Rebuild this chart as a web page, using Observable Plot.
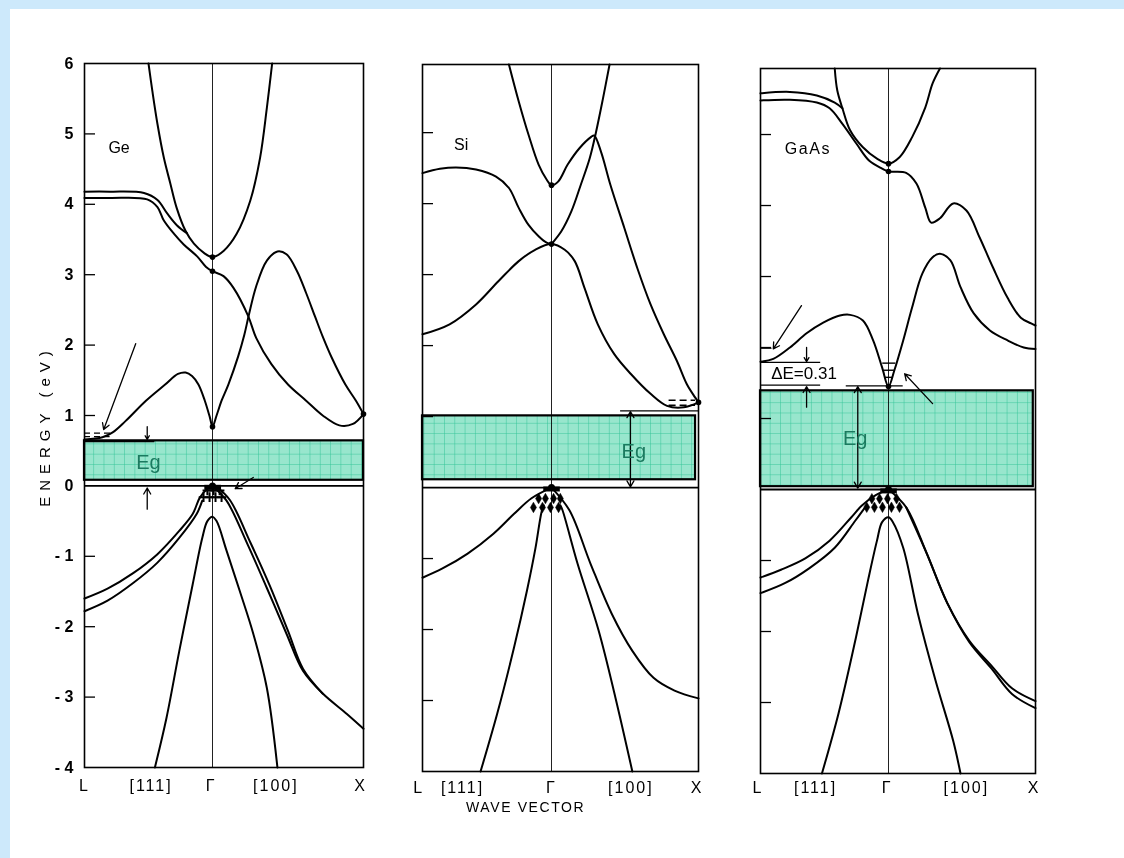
<!DOCTYPE html>
<html><head><meta charset="utf-8">
<script src="https://cdn.jsdelivr.net/npm/d3@7"></script>
<script src="https://cdn.jsdelivr.net/npm/@observablehq/plot@0.6"></script>
<style>
html,body{margin:0;padding:0;}
body{width:1124px;height:858px;background:#cde9fb;overflow:hidden;position:relative;}
#page{position:absolute;left:10px;top:9px;right:0;bottom:0;background:#fff;}
#wrap{position:absolute;left:0;top:0;width:1124px;height:858px;}
</style></head><body>
<div id="page"></div>
<div id="wrap"></div>
<script>
// ---------------- DATA (k: L=-1, Γ=0, X=+1 ; E in eV) ----------------
// Ge conduction bands
const geParabola = [[-0.50,6.0],[-0.47,5.61],[-0.43,5.14],[-0.38,4.66],[-0.33,4.3],[-0.28,3.95],[-0.21,3.62],[-0.145,3.44],[-0.067,3.31],[0,3.25],[0.075,3.34],[0.16,3.58],[0.25,4.05],[0.315,4.66],[0.36,5.37],[0.395,6.0]];
const geUpperA = [[-1,4.18],[-0.8,4.18],[-0.535,4.16],[-0.43,4.06],[-0.354,3.87],[-0.277,3.7],[-0.2,3.59]];
const geUpperB = [[-1,4.09],[-0.8,4.09],[-0.51,4.07],[-0.43,3.96],[-0.38,3.77],[-0.3,3.58],[-0.225,3.43],[-0.12,3.26],[-0.05,3.11],[0,3.05],[0.073,2.98],[0.14,2.81],[0.235,2.42],[0.29,2.1],[0.39,1.73],[0.5,1.44],[0.62,1.21],[0.73,1.0],[0.84,0.86],[0.93,0.88],[1,1.02]];
const geLowest = [[-1,0.66],[-0.86,0.69],[-0.78,0.76],[-0.68,0.92],[-0.52,1.21],[-0.37,1.44],[-0.27,1.59],[-0.21,1.61],[-0.16,1.56],[-0.11,1.44],[-0.06,1.21],[-0.02,0.97],[0,0.84],[0.027,1.0],[0.06,1.21],[0.105,1.44],[0.17,1.84],[0.21,2.14],[0.24,2.42],[0.29,2.84],[0.36,3.2],[0.43,3.33],[0.49,3.29],[0.56,3.05],[0.62,2.74],[0.68,2.4],[0.73,2.12],[0.79,1.82],[0.88,1.44],[0.95,1.21],[1,1.02]];
// Ge valence bands
const geValLa = [[-1,-1.6],[-0.82,-1.46],[-0.62,-1.24],[-0.43,-0.97],[-0.26,-0.64],[-0.155,-0.4],[-0.1,-0.17],[-0.04,-0.04],[0,0]];
const geValLb = [[-1,-1.78],[-0.82,-1.63],[-0.62,-1.38],[-0.43,-1.09],[-0.26,-0.74],[-0.124,-0.4],[-0.08,-0.21]];
const geValRa = [[0,0],[0.093,-0.21],[0.23,-0.82],[0.36,-1.45],[0.49,-2.1],[0.6,-2.63],[0.73,-2.95],[0.89,-3.24],[1,-3.45]];
const geValRb = [[0.03,-0.02],[0.115,-0.2],[0.25,-0.8],[0.38,-1.42],[0.5,-2.06],[0.6,-2.6],[0.73,-2.95]];
const geValIn = [[-0.45,-4],[-0.36,-3.3],[-0.26,-2.35],[-0.155,-1.4],[-0.08,-0.74],[-0.04,-0.5],[0,-0.44],[0.027,-0.5],[0.093,-0.92],[0.18,-1.49],[0.27,-2.1],[0.36,-2.87],[0.43,-4]];
// Si conduction bands
const siParabola = [[-0.33,5.96],[-0.254,5.44],[-0.178,4.97],[-0.1,4.55],[-0.038,4.34],[0,4.26],[0.045,4.31],[0.11,4.55],[0.19,4.78],[0.27,4.94],[0.29,4.96],[0.337,4.73],[0.4,4.27],[0.495,3.66],[0.584,3.09],[0.674,2.58],[0.764,2.16],[0.854,1.78],[0.92,1.46],[0.977,1.27],[1,1.2]];
const siRise = [[0,3.43],[0.067,3.61],[0.135,3.89],[0.2,4.27],[0.26,4.64],[0.303,5.01],[0.35,5.48],[0.395,5.96]];
const siUpperL = [[-1,4.43],[-0.865,4.49],[-0.74,4.51],[-0.585,4.48],[-0.43,4.38],[-0.33,4.22],[-0.254,3.94],[-0.178,3.7],[-0.1,3.54],[-0.038,3.45],[0,3.43]];
const siLowest = [[-1,2.16],[-0.79,2.3],[-0.585,2.58],[-0.41,2.91],[-0.254,3.19],[-0.127,3.35],[0,3.43],[0.09,3.35],[0.158,3.19],[0.225,2.81],[0.315,2.3],[0.427,1.88],[0.54,1.6],[0.674,1.32],[0.786,1.15],[0.9,1.13],[1,1.2]];
// Si valence bands
const siValLo = [[-1,-1.27],[-0.845,-1.14],[-0.65,-0.93],[-0.45,-0.65],[-0.29,-0.37],[-0.155,-0.15],[0,0]];
const siValLi = [[-0.55,-4],[-0.42,-3.18],[-0.29,-2.25],[-0.19,-1.45],[-0.124,-0.85],[-0.078,-0.35],[-0.06,-0.25]];
const siValRi = [[0.06,-0.25],[0.075,-0.32],[0.177,-1.07],[0.32,-2.01],[0.435,-2.96],[0.55,-4]];
const siValRo = [[0,0],[0.122,-0.32],[0.265,-1.07],[0.408,-1.77],[0.55,-2.3],[0.694,-2.68],[0.837,-2.86],[1,-2.97]];
// GaAs conduction bands
const gaParabola = [[-0.42,5.93],[-0.4,5.62],[-0.36,5.37],[-0.3,5.06],[-0.2,4.82],[-0.09,4.66],[0,4.59],[0.075,4.68],[0.16,4.96],[0.25,5.38],[0.3,5.72],[0.35,5.93]];
const gaUpperA = [[-1,5.58],[-0.77,5.6],[-0.56,5.55],[-0.42,5.45],[-0.36,5.37]];
const gaUpperB = [[-1,5.48],[-0.77,5.49],[-0.56,5.45],[-0.46,5.37],[-0.36,5.15],[-0.25,4.87],[-0.15,4.63],[-0.05,4.52],[0,4.48],[0.12,4.46],[0.19,4.31],[0.25,3.97],[0.29,3.76],[0.35,3.82],[0.44,4.03],[0.53,3.93],[0.62,3.55],[0.71,3.13],[0.81,2.7],[0.9,2.42],[0.97,2.34],[1,2.31]];
const gaLowest = [[-1,1.8],[-0.9,1.84],[-0.77,2.0],[-0.64,2.2],[-0.51,2.35],[-0.38,2.45],[-0.3,2.46],[-0.2,2.38],[-0.12,2.1],[-0.05,1.72],[0,1.45],[0.04,1.68],[0.1,2.1],[0.16,2.56],[0.23,3.04],[0.3,3.27],[0.35,3.32],[0.42,3.23],[0.49,2.85],[0.58,2.48],[0.69,2.24],[0.81,2.1],[0.92,2.0],[1,1.98]];
// GaAs valence bands
const gaValLa = [[-1,-1.24],[-0.84,-1.13],[-0.65,-0.97],[-0.46,-0.72],[-0.29,-0.39],[-0.21,-0.23],[-0.1,-0.08],[0,0]];
const gaValLb = [[-1,-1.46],[-0.81,-1.32],[-0.62,-1.11],[-0.42,-0.82],[-0.26,-0.44],[-0.19,-0.27]];
const gaValIn = [[-0.52,-4],[-0.39,-3.15],[-0.26,-2.13],[-0.16,-1.28],[-0.09,-0.72],[-0.05,-0.46],[0,-0.39],[0.03,-0.46],[0.1,-0.82],[0.2,-1.75],[0.32,-2.69],[0.44,-3.54],[0.49,-4]];
const gaValRa = [[0,0],[0.12,-0.25],[0.26,-0.9],[0.4,-1.6],[0.55,-2.13],[0.7,-2.48],[0.84,-2.8],[1,-2.98]];
const gaValRb = [[0.12,-0.25],[0.26,-0.9],[0.4,-1.6],[0.55,-2.15],[0.7,-2.52],[0.84,-2.88],[1,-3.08]];

// energy gap boxes [Emin, Emax, kRight]
const geGap = [0.08, 0.64, 1.0];
const siGap = [0.11, 1.01, 0.98];
const gaGap = [0.04, 1.39, 0.985];

// axis labels
const yTickValues = [6,5,4,3,2,1,0,-1,-2,-3,-4];
const yTickLabels = ["6","5","4","3","2","1","0","- 1","- 2","- 3","- 4"];
const innerTicks = [5,4,3,2,1,-1,-2,-3];
const kLabels = ["L","[111]","Γ","[100]","X"];
const geLabelK = [-1.0,-0.48,-0.01,0.42,0.98];
const siLabelK = [-1.03,-0.69,0,0.54,0.99];
const gaLabelK = [-1.02,-0.57,-0.01,0.53,0.99];

// carriers
const geHolesK = [[-0.04,-0.065],[0.007,-0.065],[0.047,-0.065],[-0.07,-0.16],[-0.023,-0.16],[0.02,-0.16],[0.06,-0.16]];
const siHolesK = [[-0.1,-0.155],[-0.047,-0.155],[0.014,-0.155],[0.06,-0.155],[-0.14,-0.28],[-0.07,-0.28],[-0.008,-0.28],[0.048,-0.28]];
const gaHolesK = [[-0.13,-0.13],[-0.07,-0.13],[-0.008,-0.13],[0.055,-0.13],[-0.17,-0.25],[-0.11,-0.25],[-0.047,-0.25],[0.02,-0.25],[0.075,-0.25]];
const geElectrons = [[0.75,-1,-0.77],[0.70,-1,-0.8]];
const siElectrons = [[1.23,0.8,0.98],[1.16,0.8,0.98]];
const gaElectrons = [[1.78,-0.045,0.05],[1.68,-0.035,0.04],[1.58,-0.025,0.03]];
const geGammaPts = [[0,3.25],[0,3.05],[0,0.84],[1,1.02]];
const siGammaPts = [[0,4.26],[0,3.43],[1,1.2]];
const gaGammaPts = [[0,4.59],[0,4.48],[0,1.45]];

// annotations: arrows [k1,E1,k2,E2], level lines [E,k1,k2]
const geArrows = [[-0.6,2.02,-0.85,0.8],[-0.51,0.84,-0.51,0.66],[-0.51,-0.33,-0.51,-0.03],[0.27,0.12,0.15,-0.04]];
const siArrows = [[0.537,0.55,0.537,1.07],[0.537,0.55,0.537,0.01]];
const gaArrows = [[-0.24,0.75,-0.24,1.45],[-0.24,0.75,-0.24,0.02],[-0.64,2.0,-0.64,1.8],[-0.64,1.16,-0.64,1.45],[0.3,1.21,0.11,1.63],[-0.68,2.59,-0.9,1.98]];
const geLevels = [[0.63,-1,-0.45]];
const siLevels = [[1.08,0.47,1.0]];
const gaLevels = [[1.79,-1,-0.53],[1.47,-1,-0.53],[1.46,-0.33,0.1],[1.99,-1,-0.91]];

// ---------------- DRAWING ----------------
const FONT = "'Liberation Sans', Arial, sans-serif";
const GAP_FILL = "#98e6cd";
const SPACING = {"L": 2, "[111]": 2, "Γ": 2, "[100]": 2, "X": 2, "WAVE VECTOR": 1.6, "ENERGY (eV)": 6, "GaAs": 1.5};

function panel(cfg) {
  const off = cfg.left;
  const a = cfg.G - cfg.L, b = cfg.X - cfg.G;           // pixel lengths of Γ-L and Γ-X
  const kx = k => (k < 0 ? k * a : k * b);               // wave-vector position along the axis
  const lines = cfg.curves.flatMap(([n, p]) => p.map(([k, E]) => ({name: n, k, E})));
  const Lp = cfg.L - off, Xp = cfg.X - off;
  const tickK = -1 + 11 / a;
  const gapBox = [{k1: -1, k2: cfg.gap[2], y1: cfg.gap[0], y2: cfg.gap[1]}];
  const marks = [
    Plot.ruleX([0], {x: d => kx(d), y1: -4, y2: cfg.yTop, stroke: "#222", strokeWidth: 1}),
    Plot.ruleY([0], {x1: kx(-1), x2: kx(1), stroke: "black", strokeWidth: 1.8}),
    Plot.ruleY(innerTicks, {x1: kx(-1), x2: kx(tickK), stroke: "black", strokeWidth: 1.3}),
    Plot.line(lines, {x: d => kx(d.k), y: "E", z: "name", stroke: "black", strokeWidth: 2, curve: "catmull-rom"}),
    Plot.ruleY(cfg.levels, {y: d => d[0], x1: d => kx(d[1]), x2: d => kx(d[2]), stroke: "black", strokeWidth: 1.2}),
    Plot.ruleY(cfg.electrons, {y: d => d[0], x1: d => kx(d[1]), x2: d => kx(d[2]), stroke: "black", strokeWidth: 1.4, strokeDasharray: cfg.dash}),
    Plot.arrow(cfg.arrows, {x1: d => kx(d[0]), y1: d => d[1], x2: d => kx(d[2]), y2: d => d[3], stroke: "black", strokeWidth: 1.3, headLength: 8}),
    Plot.dot(cfg.gammaPts, {x: d => kx(d[0]), y: d => d[1], r: 2.8, fill: "black"}),
    Plot.ruleY([-0.02], {x1: kx(-0.06), x2: kx(0.06), stroke: "black", strokeWidth: 5}),
    Plot.dot([[0, 0]], {x: d => kx(d[0]), y: d => d[1], r: 3.5, fill: "black"}),
    Plot.dot(cfg.holes, {x: d => kx(d[0]), y: d => d[1], symbol: cfg.holeSymbol, r: 3.2, fill: "black", stroke: "black", strokeWidth: cfg.holeSymbol === "plus" ? 2 : 0.5}),
    Plot.rect(gapBox, {x1: d => kx(d.k1), x2: d => kx(d.k2), y1: "y1", y2: "y2", fill: GAP_FILL}),
    Plot.rect(gapBox, {x1: d => kx(d.k1), x2: d => kx(d.k2), y1: "y1", y2: "y2", fill: "none", stroke: "black", strokeWidth: 2.2}),
    Plot.text(["Eg"], {x: () => kx(cfg.eg[0]), y: () => cfg.eg[1], text: d => d, fill: "#1b7a5f", fontSize: 20, fontFamily: FONT}),
    Plot.text([cfg.name], {x: () => kx(cfg.nameAt[0]), y: () => cfg.nameAt[1], text: d => d, fontSize: 16, fontFamily: FONT, fill: "black"}),
    Plot.text(kLabels, {x: (d, i) => kx(cfg.labelK[i]), frameAnchor: "bottom", dy: cfg.labelDy, text: d => d, fontSize: 16, fontFamily: FONT, fill: "black"}),
    Plot.frame({stroke: "black", strokeWidth: 1.6})
  ];
  if (cfg.extra) marks.push(...cfg.extra(kx));
  const svg = Plot.plot({
    width: cfg.width, height: 858,
    marginLeft: Lp, marginRight: cfg.width - Xp, marginTop: cfg.top, marginBottom: 858 - cfg.bottom,
    x: {type: "linear", domain: [-a, b], axis: null},
    y: {type: "linear", domain: [-4, cfg.yTop], axis: null},
    style: {background: "transparent", overflow: "visible", fontFamily: FONT},
    marks
  });
  // grid pattern of the gap box, blended so that lines under it stay visible
  const pid = "grid-" + cfg.id;
  svg.querySelectorAll("[fill]").forEach(el => {
    if ((el.getAttribute("fill") || "").toLowerCase() === GAP_FILL) {
      el.setAttribute("fill", `url(#${pid})`);
      el.style.mixBlendMode = "multiply";
    }
  });
  const ns = "http://www.w3.org/2000/svg";
  const defs = document.createElementNS(ns, "defs");
  defs.innerHTML = `<pattern id="${pid}" x="0.5" y="0.5" width="10.3" height="10.3" patternUnits="userSpaceOnUse"><rect width="10.3" height="10.3" fill="rgb(152,230,205)"/><path d="M10.3 0H0V10.3" fill="none" stroke="rgb(52,196,152)" stroke-width="1"/></pattern>`;
  svg.insertBefore(defs, svg.firstChild);
  svg.querySelectorAll("text").forEach(t => {
    const s = SPACING[t.textContent.replace(/\s+/g, " ").trim()];
    if (s) t.style.letterSpacing = s + "px";
  });
  svg.style.position = "absolute";
  svg.style.left = cfg.left + "px";
  svg.style.top = "0px";
  document.getElementById("wrap").appendChild(svg);
}

panel({
  id: "ge", name: "Ge", left: 0, width: 392, L: 84, G: 212, X: 363, top: 63, bottom: 767, yTop: 6,
  curves: [["p", geParabola], ["ua", geUpperA], ["ub", geUpperB], ["lo", geLowest], ["vla", geValLa], ["vlb", geValLb], ["vra", geValRa], ["vrb", geValRb], ["vin", geValIn]],
  gap: geGap, eg: [-0.5, 0.33], nameAt: [-0.73, 4.8], labelK: geLabelK, labelDy: 23,
  holes: geHolesK, holeSymbol: "plus", electrons: geElectrons, dash: "6,4", gammaPts: geGammaPts,
  arrows: geArrows, levels: geLevels,
  extra: kx => [
    Plot.text(yTickLabels, {x: () => kx(-1), y: (d, i) => yTickValues[i], dx: -11, textAnchor: "end", text: d => d, fontSize: 16, fontWeight: "bold", fontFamily: FONT, fill: "black"}),
    Plot.text(["ENERGY (eV)"], {x: () => kx(-1), y: () => 0.85, dx: -39, rotate: -90, text: d => d, fontSize: 15, fontFamily: FONT, fill: "black"})
  ]
});
panel({
  id: "si", name: "Si", left: 392, width: 336, L: 422, G: 551, X: 698, top: 64, bottom: 771, yTop: 5.96,
  curves: [["p", siParabola], ["r", siRise], ["ul", siUpperL], ["lo", siLowest], ["vlo", siValLo], ["vli", siValLi], ["vri", siValRi], ["vro", siValRo]],
  gap: siGap, eg: [0.56, 0.5], nameAt: [-0.7, 4.83], labelK: siLabelK, labelDy: 21,
  holes: siHolesK, holeSymbol: "diamond", electrons: siElectrons, dash: "7,4", gammaPts: siGammaPts,
  arrows: siArrows, levels: siLevels,
  extra: kx => [
    Plot.text(["WAVE VECTOR"], {x: () => kx(-0.2), frameAnchor: "bottom", dy: 40, text: d => d, fontSize: 14, fontFamily: FONT, fill: "black"})
  ]
});
panel({
  id: "ga", name: "GaAs", left: 728, width: 396, L: 760, G: 888, X: 1035, top: 68, bottom: 773, yTop: 5.93,
  curves: [["p", gaParabola], ["ua", gaUpperA], ["ub", gaUpperB], ["lo", gaLowest], ["vla", gaValLa], ["vlb", gaValLb], ["vin", gaValIn], ["vra", gaValRa], ["vrb", gaValRb]],
  gap: gaGap, eg: [-0.26, 0.72], nameAt: [-0.63, 4.8], labelK: gaLabelK, labelDy: 19,
  holes: gaHolesK, holeSymbol: "diamond", electrons: gaElectrons, dash: "none", gammaPts: gaGammaPts,
  arrows: gaArrows, levels: gaLevels,
  extra: kx => [
    Plot.text(["ΔE=0.31"], {x: () => kx(-0.66), y: () => 1.63, text: d => d, fontSize: 17, fontFamily: FONT, fill: "black"})
  ]
});
</script>
</body></html>
